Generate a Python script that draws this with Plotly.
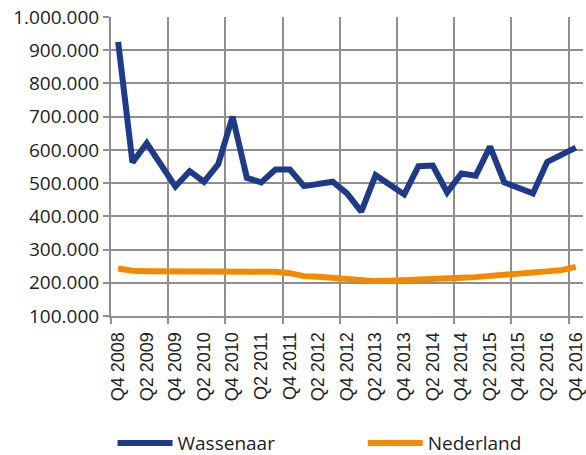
import plotly.graph_objects as go

quarters = ["Q4 2008", "Q1 2009", "Q2 2009", "Q3 2009", "Q4 2009", "Q1 2010", "Q2 2010", "Q3 2010",
            "Q4 2010", "Q1 2011", "Q2 2011", "Q3 2011", "Q4 2011", "Q1 2012", "Q2 2012", "Q3 2012",
            "Q4 2012", "Q1 2013", "Q2 2013", "Q3 2013", "Q4 2013", "Q1 2014", "Q2 2014", "Q3 2014",
            "Q4 2014", "Q1 2015", "Q2 2015", "Q3 2015", "Q4 2015", "Q1 2016", "Q2 2016", "Q3 2016",
            "Q4 2016"]

wassenaar = [925000, 562000, 620000, 552000, 490000, 536000, 504000, 557000,
             700000, 516000, 502000, 541000, 541000, 491000, 496000, 504000,
             469000, 414000, 524000, 494000, 466000, 551000, 553000, 472000,
             529000, 522000, 610000, 502000, 486000, 469000, 564000, 587000,
             607000]

nederland = [243000, 236000, 235000, 235000, 235000, 237000, 237000, 236000,
             236000, 236000, 235000, 233000, 229000, 220000, 218000, 215000,
             210000, 205000, 205000, 206000, 207000, 209000, 212000, 212000,
             215000, 217000, 220000, 222000, 226000, 229000, 234000, 238000,
             248000]

y_ticks = [100000, 200000, 300000, 400000, 500000, 600000, 700000, 800000, 900000, 1000000]

idx = list(range(len(quarters)))
label_idx = idx[::2]
label_text = [quarters[i] for i in label_idx]

NAVY = "#1f3a87"
ORANGE = "#f28a00"
GRID = "#8f8f8f"

fig = go.Figure()
fig.add_trace(go.Scatter(x=idx, y=wassenaar, mode="lines", name="Wassenaar",
                         line=dict(color=NAVY, width=6), legend="legend"))
fig.add_trace(go.Scatter(x=idx, y=nederland, mode="lines", name="Nederland",
                         line=dict(color=ORANGE, width=6), legend="legend2"))

legend_common = dict(orientation="h", xref="container", xanchor="left",
                     yref="container", y=0.026, yanchor="middle",
                     itemwidth=55,
                     font=dict(family="Open Sans", size=19, color="#222222"),
                     bgcolor="rgba(0,0,0,0)")

fig.update_layout(
    width=586, height=455,
    margin=dict(l=111, r=3, t=17, b=139, autoexpand=False),
    paper_bgcolor="white", plot_bgcolor="white",
    separators=",.",
    font=dict(family="Open Sans", size=19, color="#222222"),
    showlegend=True,
    legend=dict(x=0.192, **legend_common),
    legend2=dict(x=0.619, **legend_common),
)

fig.update_xaxes(
    range=[-0.5, 32.5], automargin=False,
    tickmode="array", tickvals=label_idx, ticktext=label_text,
    tickangle=-90, ticks="", showgrid=False, ticklabelstandoff=7,
    tickfont=dict(family="Liberation Sans", size=18, color="#222222"),
    showline=True, linecolor=GRID, linewidth=2,
    minor=dict(tickmode="linear", tick0=-0.5, dtick=4, showgrid=True,
               gridcolor=GRID, gridwidth=2, ticks="outside", ticklen=6,
               tickcolor=GRID, tickwidth=2),
    zeroline=False,
)

fig.update_yaxes(
    range=[100000, 1000000], automargin=False,
    tickmode="array", tickvals=y_ticks, tickformat=",d",
    showgrid=True, gridcolor=GRID, gridwidth=2,
    ticks="outside", ticklen=6, tickcolor=GRID, tickwidth=2,
    showline=True, linecolor=GRID, linewidth=2,
    tickfont=dict(family="Open Sans", size=19, color="#222222"),
    zeroline=False,
)

fig.write_html("out.html", config={"displayModeBar": False},
               post_script="document.body.style.margin='0';document.body.style.overflow='hidden';")
